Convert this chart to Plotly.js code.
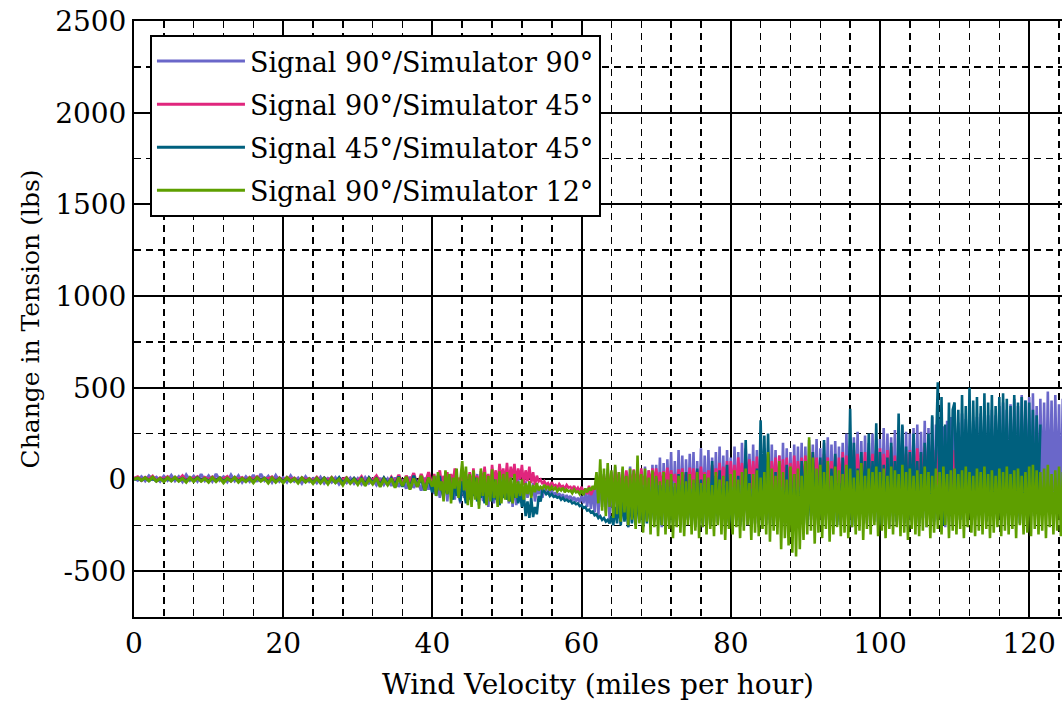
<!DOCTYPE html>
<html>
<head>
<meta charset="utf-8">
<script src="https://cdn.plot.ly/plotly-3.0.1.min.js"></script>
<style>html,body{margin:0;padding:0;background:#fff;}#chart{width:1062px;height:705px;}</style>
</head>
<body>
<div id="chart"></div>
<script>
// Wind velocity sampling (miles per hour):
// quiet part 0-40 mph sampled every 0.5 mph, noisy part from 40 mph sampled every 0.25 mph
const quietStart = 0, quietStep = 0.5;
const noisyStart = 40, noisyStep = 0.25;

const seriesNames = [
  "Signal 90°/Simulator 90°",
  "Signal 90°/Simulator 45°",
  "Signal 45°/Simulator 45°",
  "Signal 90°/Simulator 12°"
];

// Change in tension (lbs)
const sig90sim90Quiet = [
  10,-5,15,-8,20,0,12,-10,18,-5,
  22,-8,15,-12,25,-5,18,-10,28,-6,
  20,-10,30,-5,15,-12,25,-8,20,-15,
  15,-10,25,-12,30,-5,18,-15,22,-10,
  10,-15,20,-10,8,-20,15,-12,5,-18,
  12,-20,5,-15,10,-25,0,-18,8,-22,
  5,-25,10,-20,0,-30,8,-28,3,-35,
  10,-40,0,-50,15,-45,-5,-60,10,-55,
  0
];
const sig90sim90Noisy = [
  0,-80,20,-50,-100,10,-90,30,-120,0,-60,20,-110,10,-80,-130,25,-100,30,-120,
  20,-130,0,-90,30,-140,10,-110,-120,25,-150,0,20,-130,-60,10,-140,20,-100,-30,
  0,-130,20,-150,-20,-140,10,-120,-30,-110,-10,-100,-40,-90,-20,-120,-50,-80,-40,-100,
  -50,-70,-60,-80,-60,-90,-70,-95,-75,-100,-80,-110,-85,-105,-90,-115,-95,-120,-100,-125,
  -90,-130,-70,-150,-60,-160,-40,-180,20,-200,40,-150,30,-180,60,-220,40,-200,70,-190,
  30,-240,60,-200,40,-260,70,-230,50,-250,60,-210,40,-240,70,-220,50,-250,80,-230,
  80,-220,120,-260,90,-230,110,-200,150,-240,100,-250,160,-220,130,-260,110,-210,140,-240,
  150,-240,100,-220,170,-260,130,-230,160,-250,120,-200,150,-240,180,-220,130,-260,160,-230,
  120,-240,180,-220,150,-260,200,-230,170,-250,140,-220,190,-240,160,-260,200,-230,170,-250,
  140,-240,190,-220,160,-260,130,-230,200,-250,170,-220,150,-240,190,-260,180,-230,200,-250,
  180,-240,215,-220,190,-260,220,-230,170,-250,200,-220,230,-240,190,-260,210,-230,180,-250,
  200,-240,250,-220,180,-260,230,-230,260,-250,210,-220,240,-240,200,-260,250,-230,220,-250,
  220,-240,280,-220,250,-260,230,-230,270,-250,240,-220,290,-240,260,-260,250,-230,280,-250,
  300,-240,260,-220,320,-260,280,-230,340,-250,300,-220,330,-240,290,-260,320,-230,340,-250,
  340,-200,310,-220,360,-180,330,-230,350,-200,320,-220,340,-190,360,-210,330,-230,350,-200,
  380,-220,350,-180,400,-200,420,-150,380,-190,410,-210,440,-180,400,-200,460,-170,430,-190,
  450,-200,470,-150,400,-180,440,-120,420,-180,480,-160,430,-190,460,-140,410,-180,440,-170,
  400
];

const sig90sim45Quiet = [
  5,15,-5,12,0,18,-8,10,2,15,
  -5,12,0,20,-6,10,3,15,-8,12,
  0,14,-5,10,2,16,-8,12,0,10,
  -6,12,0,15,-5,8,3,14,-8,10,
  -5,12,0,8,-10,10,-2,6,-8,12,
  -10,8,-5,12,-12,5,0,10,-15,6,
  -10,15,-20,10,-5,20,-15,8,-25,12,
  -20,25,-30,20,-15,35,-40,30,-25,40,
  -40
];
const sig90sim45Noisy = [
  -40,30,-60,10,50,-30,20,-70,40,-50,30,-20,60,-60,10,-40,45,-70,20,-30,
  40,-60,60,-30,20,-50,45,-20,70,-40,30,-60,80,-10,50,-40,85,0,60,-20,
  90,-30,70,10,85,-20,60,0,80,-30,50,-10,70,-20,40,-30,20,-10,0,-25,
  -10,-30,-20,-40,-15,-35,-30,-45,-25,-40,-35,-50,-30,-45,-40,-55,-35,-60,-45,-65,
  -40,-70,-50,-80,-35,-85,-60,-50,0,-60,30,-40,20,-70,40,-30,10,-60,50,-40,
  40,-50,20,-30,50,-60,30,-40,55,-20,40,-50,60,-30,20,-60,50,-40,60,-20,
  60,-30,40,-50,45,-20,65,-40,50,-10,30,-50,55,-30,60,-40,40,-20,65,-50,
  60,-20,50,-40,70,-30,40,-50,50,-20,80,-40,60,-30,90,-50,70,-20,100,-40,
  100,-40,80,-60,120,-30,90,-70,130,-40,110,-50,100,-60,125,-30,110,-70,90,-40,
  140,-60,100,-50,120,-80,130,-40,110,-60,120,-70,90,-50,130,-60,100,-40,120,-70,
  130,-30,110,-60,150,-40,120,-70,110,-50,140,-30,120,-60,100,-40,130,-70,120,-50,
  150,-60,130,-40,120,-70,160,-50,140,-30,120,-60,150,-40,130,-70,140,-50,160,-30,
  170,-60,140,-40,160,-50,180,-70,130,-40,150,-60,170,-30,140,-50,160,-70,150,-40,
  170,-60,140,-30,180,-50,150,-40,130,-60,160,-30,170,-50,140,-40,160,-60,150,-30,
  160,-50,170,-30,120
];

const sig45sim45Quiet = [
  0,6,-4,8,-6,5,-8,4,-5,6,
  -6,8,-4,6,-8,5,-6,10,-5,4,
  -8,5,-6,8,-10,4,-5,7,-8,3,
  -6,5,-10,8,-5,6,-12,4,-8,6,
  -10,5,-8,3,-12,6,-10,2,-15,5,
  -12,8,-18,5,-15,10,-20,4,-15,6,
  -20,5,-25,10,-18,4,-30,8,-22,5,
  -30,15,-40,10,-50,20,-35,5,-60,10,
  -70
];
const sig45sim45Noisy = [
  -70,10,-90,-20,20,-60,-100,0,-80,15,-60,-110,5,-90,-40,-120,-10,-80,-130,0,
  -110,-20,-90,10,-120,-40,-100,-10,-130,-60,-90,-20,-120,0,-110,-50,-140,-30,-100,-70,
  -110,-40,-120,-60,-100,-50,-130,-70,-150,-80,-200,-120,-210,-100,-205,-150,-190,-90,-120,-60,
  -65,-80,-70,-90,-80,-95,-90,-100,-95,-110,-100,-115,-110,-120,-115,-130,-125,-135,-130,-145,
  -140,-155,-150,-170,-165,-180,-175,-195,-190,-210,-200,-220,-210,-230,-220,-240,-200,-250,-150,-240,
  -120,-250,-100,-230,-140,-260,-80,-240,-110,-250,-60,-230,-90,-260,-40,-240,-70,-250,-20,-220,
  10,-220,-30,-250,20,-200,-60,-240,0,-230,-40,-210,30,-250,-20,-190,40,-220,-50,-240,
  -20,-260,60,-210,0,-240,30,-200,-40,-250,100,-230,20,-200,50,-260,-30,-220,80,-240,
  -100,-230,-60,-200,20,-250,-120,-180,215,-150,30,-250,-80,-200,60,-230,323,-180,240,-220,
  250,-220,-50,-250,40,-200,-100,-160,-60,-220,80,-190,-100,-260,30,-200,-60,-220,100,-180,
  100,-250,-30,-200,150,-180,-80,-240,120,-200,215,-180,-50,-230,60,-190,140,-250,-20,-200,
  120,-200,-50,-180,385,-250,200,-220,60,-230,150,-170,100,-200,250,-240,100,-180,306,-230,
  150,-250,80,-220,120,-180,200,-200,100,-230,360,-190,300,-240,180,-210,150,-180,250,-230,
  100,-240,150,-210,200,-180,250,-200,350,-230,200,530,-170,450,-250,300,-190,420,-200,380,
  420,-100,380,-220,460,-150,400,-200,500,-250,430,-120,450,-200,400,-150,470,-230,420,-180,
  460,-220,400,-100,450,-240,470,-200,440,-250,400,-150,460,-200,420,-240,450,-180,430,-220,
  420,-150,380,-200,350,-100,300
];

const sig90sim12Quiet = [
  0,8,-5,10,-8,12,-10,6,-12,10,
  -8,12,-10,5,-15,10,-12,8,-10,5,
  -15,10,-12,8,-18,6,-10,12,-15,5,
  -12,8,-18,10,-10,6,-20,8,-15,5,
  -18,10,-12,5,-20,8,-15,3,-22,6,
  -20,5,-25,8,-18,2,-30,6,-22,0,
  -28,5,-35,2,-25,8,-40,0,-30,5,
  -45,10,-35,15,-55,5,-40,20,-60,10,
  -40
];
const sig90sim12Noisy = [
  -40,20,-90,40,-60,-10,-120,50,-80,30,-130,10,-50,60,-100,20,100,-60,70,-140,
  30,-150,50,-110,10,-160,60,-90,40,-140,20,-120,55,-100,0,-150,45,-130,30,-110,
  40,-120,10,-130,30,-100,-10,-90,0,-110,-20,-80,-10,-100,-30,-70,-20,-60,-40,-50,
  -30,-50,-35,-60,-40,-55,-45,-65,-50,-60,-45,-70,-55,-65,-60,-75,-55,-70,-65,-80,
  -60,-85,-50,-70,-45,-60,-35,-55,40,-130,110,-170,60,-200,90,-150,50,-210,80,-190,
  40,-230,70,-180,20,-250,60,-220,50,-270,130,-240,30,-290,60,-230,10,-300,50,-260,
  20,-310,-10,-250,40,-300,0,-270,30,-320,-20,-260,20,-290,40,-310,-10,-250,30,-300,
  0,-280,40,-320,-20,-260,30,-300,10,-270,-30,-310,40,-250,0,-300,20,-330,-10,-270,
  30,-300,50,-260,0,-320,40,-280,60,-250,-20,-330,30,-290,50,-310,10,-270,40,-300,
  150,-340,60,-280,20,-300,100,-380,40,-320,0,-360,70,-400,30,-420,60,-380,20,-330,
  100,-300,230,-280,120,-350,60,-290,80,-320,40,-270,100,-340,20,-300,70,-260,50,-310,
  30,-290,80,-320,60,-260,10,-300,50,-280,90,-330,20,-270,60,-300,40,-250,70,-310,
  40,-280,60,-320,20,-270,70,-300,50,-260,30,-310,80,-290,40,-330,60,-270,20,-300,
  50,-310,30,-280,70,-260,40,-320,20,-290,60,-270,40,-300,70,-250,30,-320,50,-280,
  60,-300,30,-270,50,-320,70,-260,40,-290,20,-310,60,-280,40,-300,70,-270,30,-320,
  50,-290,20,-260,60,-310,40,-280,70,-300,30,-270,50,-320,60,-250,20,-300,40,-290,
  70,-310,80,-270,50,-300,40,-280,60,-320,80,-260,30,-300,50,-280,70,-310,40,-270,
  -290
];

const quietValues = [sig90sim90Quiet, sig90sim45Quiet, sig45sim45Quiet, sig90sim12Quiet];
const noisyValues = [sig90sim90Noisy, sig90sim45Noisy, sig45sim45Noisy, sig90sim12Noisy];
const seriesColors = ["#6a67c9", "#e0267d", "#00607e", "#5e9f00"];

const xTickValues = [0, 20, 40, 60, 80, 100, 120];
const yTickValues = [-500, 0, 500, 1000, 1500, 2000, 2500];

const traces = [];
seriesNames.forEach((name, i) => {
  traces.push({
    type: "scatter", mode: "lines", name: name, legendgroup: "g" + i,
    x0: quietStart, dx: quietStep, y: quietValues[i],
    line: {color: seriesColors[i], width: 3}, hoverinfo: "skip"
  });
  traces.push({
    type: "scatter", mode: "lines", name: name, legendgroup: "g" + i, showlegend: false,
    x0: noisyStart, dx: noisyStep, y: noisyValues[i],
    line: {color: seriesColors[i], width: 2.6}, hoverinfo: "skip"
  });
});

const fontFamily = "DejaVu Serif, serif";

const layout = {
  width: 1062,
  height: 705,
  margin: {l: 134, r: 0, t: 21, b: 88},
  paper_bgcolor: "#ffffff",
  plot_bgcolor: "#ffffff",
  font: {family: fontFamily, size: 27, color: "#000"},
  showlegend: true,
  legend: {
    x: 0.0172, y: 0.9765, xanchor: "left", yanchor: "top",
    bgcolor: "#ffffff", bordercolor: "#000", borderwidth: 2,
    font: {family: fontFamily, size: 27, color: "#000"},
    traceorder: "grouped", tracegroupgap: 5, itemwidth: 88
  },
  xaxis: {
    range: [0, 124.4],
    tickvals: xTickValues,
    ticktext: xTickValues.map(String),
    showgrid: true, gridcolor: "#000", gridwidth: 2,
    zeroline: false,
    showline: true, linecolor: "#000", linewidth: 2, mirror: true,
    ticks: "",
    minor: {dtick: 4, tick0: 0, showgrid: true, gridcolor: "#000", gridwidth: 1.5, griddash: "7px,5px", ticks: ""},
    title: {text: "Wind Velocity (miles per hour)", font: {family: fontFamily, size: 28}, standoff: 16},
    tickfont: {family: fontFamily, size: 28},
    fixedrange: true
  },
  yaxis: {
    range: [-750, 2500],
    tickvals: yTickValues,
    ticktext: yTickValues.map(String),
    showgrid: true, gridcolor: "#000", gridwidth: 2,
    zeroline: false,
    showline: true, linecolor: "#000", linewidth: 2, mirror: false,
    ticks: "",
    minor: {dtick: 250, tick0: 0, showgrid: true, gridcolor: "#000", gridwidth: 1.5, griddash: "7px,5px", ticks: ""},
    title: {text: "Change in Tension (lbs)", font: {family: fontFamily, size: 25}, standoff: 8},
    tickfont: {family: fontFamily, size: 28},
    fixedrange: true
  }
};

Plotly.newPlot("chart", traces, layout, {displayModeBar: false, staticPlot: true});
</script>
</body>
</html>
